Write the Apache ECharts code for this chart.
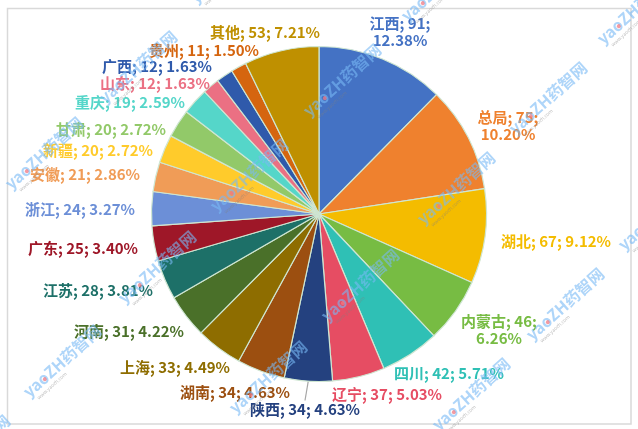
<!DOCTYPE html>
<html>
<head>
<meta charset="utf-8">
<style>
  html, body { margin: 0; padding: 0; background: #fff; }
  #chart { width: 638px; height: 429px; }
</style>
<script src="https://cdn.jsdelivr.net/npm/echarts@6/dist/echarts.min.js"></script>
</head>
<body>
<div id="chart"></div>
<script>
// 数据
const names = ["江西", "总局", "湖北", "内蒙古", "四川", "辽宁", "陕西", "湖南", "上海", "河南", "江苏",
  "广东", "浙江", "安徽", "新疆", "甘肃", "重庆", "山东", "广西", "贵州", "其他"];
const values = [91, 75, 67, 46, 42, 37, 34, 34, 33, 31, 28, 25, 24, 21, 20, 20, 19, 12, 12, 11, 53];
const colors = ["#4472c4", "#ef812e", "#f4bc00", "#77bc43", "#2fc0b5", "#e64d63", "#24417f", "#9c4f10",
  "#8e6d00", "#4a7029", "#1d7068", "#9e1728", "#6c8fd7", "#f09c57", "#ffcb2b", "#92c969", "#55d6c9",
  "#eb7083", "#2f5aab", "#d5650f", "#bf9000"];
// 标签中心位置
const labelCenters = [[400, 32], [508, 126], [556, 241], [499, 330], [449, 373], [387, 394], [305, 409],
  [235, 392], [175, 367], [129, 331], [98, 290], [83, 248], [80, 209], [85, 174], [98, 150], [111, 129],
  [130, 102], [155, 83], [157, 66], [204, 50], [265, 32]];
// 两行显示的标签
const wrapped = ["江西", "总局", "内蒙古"];
// 水印位置
const marks = [[138, 67], [44, 153], [249, 175], [342, 80], [548, 98], [636, 8], [440, -15], [229, -33],
  [456, 188], [62, 361], [157, 267], [268, 377], [360, 285], [565, 304], [471, 394], [657, 214], [-29, 451]];

const total = values.reduce(function (a, b) { return a + b; }, 0);

const mychart = echarts.init(document.getElementById("chart"), null, { renderer: "canvas" });

const graphics = [{
  type: "rect",
  silent: true,
  z: -1,
  shape: { x: 7.5, y: 8.5, width: 623.5, height: 415.5 },
  style: { fill: "#fff", stroke: "#d9d9d9", lineWidth: 1.5 }
}];
marks.forEach(function (m) {
  graphics.push({
    type: "group",
    x: m[0],
    y: m[1],
    rotation: 42 * Math.PI / 180,
    silent: true,
    z: 20,
    children: [
      {
        type: "text",
        z: 20,
        style: {
          text: "yaoZH药智网",
          x: 0, y: 0,
          align: "center",
          verticalAlign: "middle",
          font: "bold 16px 'Noto Sans CJK SC', sans-serif",
          fill: "rgba(120,185,245,0.6)"
        }
      },
      {
        type: "circle",
        z: 21,
        shape: { cx: -25, cy: 2, r: 2 },
        style: { fill: "rgba(240,120,130,0.75)" }
      },
      {
        type: "text",
        z: 20,
        style: {
          text: "www.yaozh.com",
          x: -24, y: 12,
          align: "center",
          verticalAlign: "middle",
          font: "5px 'Noto Sans', sans-serif",
          fill: "rgba(130,130,130,0.5)"
        }
      }
    ]
  });
});

const option = {
  animation: false,
  color: colors,
  graphic: graphics,
  series: [{
    type: "pie",
    center: [319, 214],
    radius: [0, 167.5],
    startAngle: 90,
    clockwise: true,
    avoidLabelOverlap: false,
    itemStyle: { borderColor: "#cfe6d2", borderWidth: 1.2 },
    label: {
      position: "outside",
      fontFamily: "'Noto Sans CJK SC', 'Noto Sans', sans-serif",
      fontSize: 15,
      fontWeight: "bold",
      lineHeight: 17,
      align: "center",
      formatter: function (p) {
        let sep = wrapped.indexOf(p.name) >= 0 ? "\n" : " ";
        let pct = (p.value / total * 100).toFixed(2);
        return p.name + "; " + p.value + ";" + sep + pct + "%";
      },
      color: "inherit"
    },
    labelLine: { show: false },
    labelLayout: function (p) {
      let c = labelCenters[p.dataIndex];
      return { x: c[0], y: c[1], align: "center", verticalAlign: "middle" };
    },
    data: names.map(function (name, i) {
      let item = { name: name, value: values[i], label: { color: colors[i] } };
      if (name === "陕西") {
        item.labelLine = { show: true, length: 12, length2: 0, lineStyle: { color: "#a6a6a6", width: 1.2 } };
      }
      return item;
    })
  }]
};
mychart.setOption(option);
</script>
</body>
</html>
